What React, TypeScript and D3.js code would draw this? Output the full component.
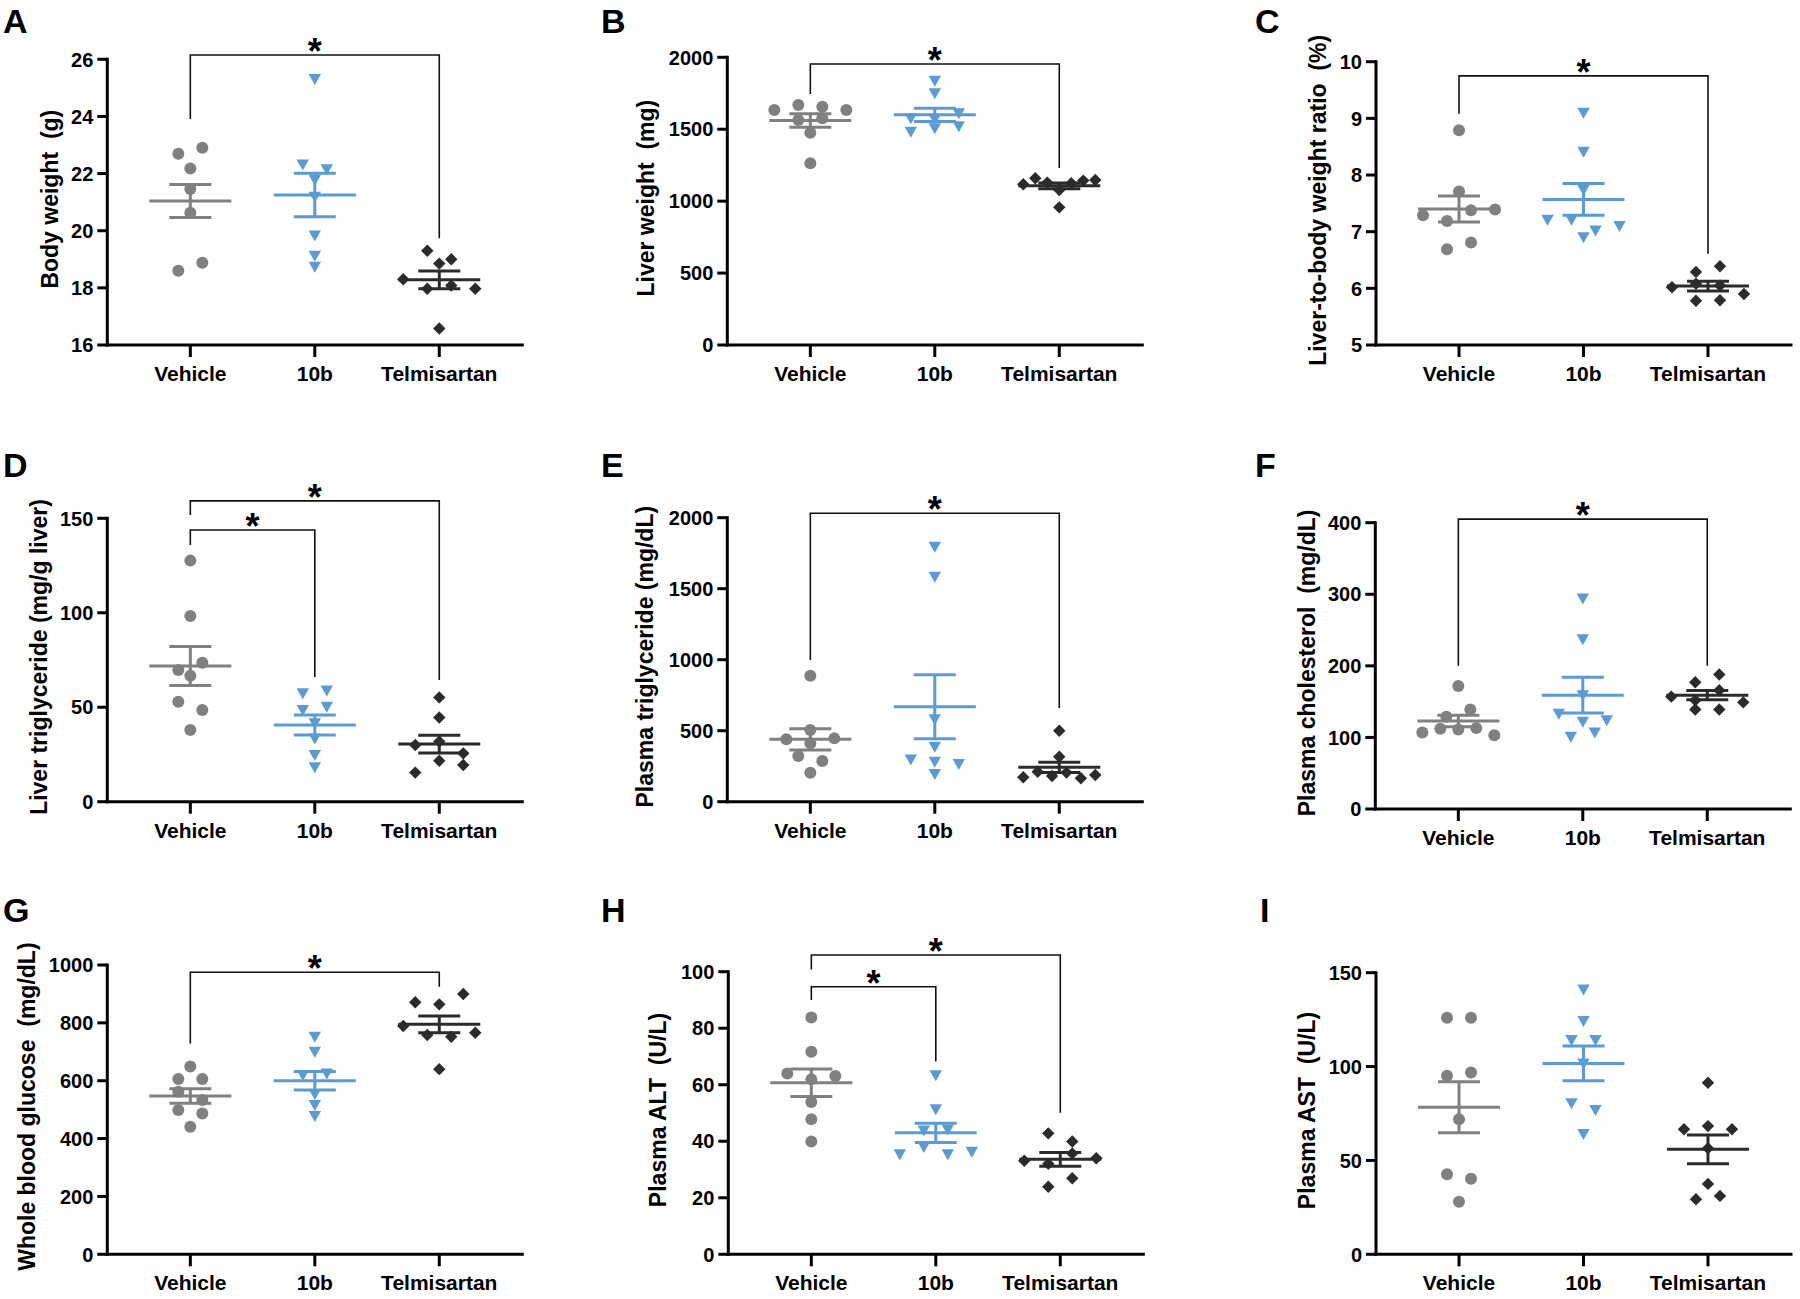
import React from 'react';
import * as d3 from 'd3';

const groups = ['Vehicle', '10b', 'Telmisartan'];

// A  Body weight (g)
const bodyWeightVehicle = [22.69, 22.9, 22.18, 21.46, 20.63, 18.6, 18.88];
const bodyWeight10b = [25.31, 22.32, 22.15, 21.78, 21.19, 19.83, 19.12, 18.74];
const bodyWeightTelmisartan = [19.3, 19.0, 18.85, 18.3, 17.97, 18.08, 17.97, 16.58];
const bodyWeightMean = [21.04, 21.25, 18.28];
const bodyWeightSem = [0.58, 0.76, 0.31];
const bodyWeightTicks = [16, 18, 20, 22, 24, 26];

// B  Liver weight (mg)
const liverWeightVehicle = [1634, 1669, 1657, 1634, 1564, 1576, 1476, 1263];
const liverWeight10b = [1837, 1750, 1576, 1570, 1611, 1483, 1506, 1520];
const liverWeightTelmisartan = [1117, 1159, 1129, 1078, 1124, 1143, 1147, 957];
const liverWeightMean = [1560, 1600, 1107];
const liverWeightSem = [47, 46, 20];
const liverWeightTicks = [0, 500, 1000, 1500, 2000];

// C  Liver-to-body weight ratio (%)
const ratioVehicle = [8.79, 7.71, 7.29, 7.19, 7.38, 7.39, 6.69, 6.81];
const ratio10b = [9.1, 8.41, 7.74, 7.21, 7.21, 7.02, 7.1, 6.9];
const ratioTelmisartan = [6.29, 6.39, 6.02, 6.08, 6.05, 5.9, 5.78, 5.79];
const ratioMean = [7.4, 7.57, 6.04];
const ratioSem = [0.23, 0.28, 0.085];
const ratioTicks = [5, 6, 7, 8, 9, 10];

// D  Liver triglyceride (mg/g liver)
const liverTgVehicle = [127.6, 98.3, 69.7, 73.6, 66.7, 52.9, 48.5, 37.9];
const liverTg10b = [57.4, 58.8, 48.5, 50.3, 41.5, 33.5, 24.7, 18.2];
const liverTgTelmisartan = [55.2, 44.6, 30.0, 31.8, 25.6, 15.4, 21.7, 19.4];
const liverTgMean = [71.8, 40.6, 30.5];
const liverTgSem = [10.3, 5.3, 4.7];
const liverTgTicks = [0, 50, 100, 150];

// E  Plasma triglyceride (mg/dL)
const plasmaTgVehicle = [887, 439, 505, 446, 411, 322, 287, 204];
const plasmaTg10b = [1796, 1585, 580, 387, 298, 282, 266, 195];
const plasmaTgTelmisartan = [500, 317, 172, 211, 181, 205, 165, 188];
const plasmaTgMean = [439, 669, 242];
const plasmaTgSem = [75, 225, 36];
const plasmaTgTicks = [0, 500, 1000, 1500, 2000];

// F  Plasma cholesterol (mg/dL)
const cholVehicle = [172, 129, 139, 107, 112, 111, 113, 103];
const chol10b = [294, 237, 159, 133, 122, 124, 101, 107];
const cholTelmisartan = [177, 188, 157, 152, 166, 149, 139, 139];
const cholMean = [123, 159, 159];
const cholSem = [8, 25, 6.5];
const cholTicks = [0, 100, 200, 300, 400];

// G  Whole blood glucose (mg/dL)
const glucoseVehicle = [649, 606, 606, 562, 533, 499, 487, 441];
const glucose10b = [752, 700, 620, 625, 554, 516, 478];
const glucoseTelmisartan = [871, 864, 900, 789, 758, 752, 766, 640];
const glucoseMean = [547, 600, 795];
const glucoseSem = [25, 32, 29];
const glucoseTicks = [0, 200, 400, 600, 800, 1000];

// H  Plasma ALT (U/L)
const altVehicle = [83.8, 71.7, 64.0, 61.9, 63.1, 53.9, 47.8, 39.9];
const alt10b = [63.4, 51.3, 43.8, 44.2, 35.4, 38.0, 35.4, 36.3];
const altTelmisartan = [42.8, 39.9, 33.1, 32.0, 35.7, 34.0, 23.9, 26.9];
const altMean = [60.7, 43.0, 33.6];
const altSem = [4.85, 3.4, 2.4];
const altTicks = [0, 20, 40, 60, 80, 100];

// I  Plasma AST (U/L)
const astVehicle = [126.0, 126.0, 95.1, 96.9, 71.9, 42.6, 40.3, 28.0];
const ast10b = [141.1, 124.3, 114.2, 114.2, 101.7, 80.4, 76.9, 64.1];
const astTelmisartan = [91.4, 66.6, 68.3, 66.6, 56.5, 37.5, 29.3, 31.1];
const astMean = [78.3, 101.7, 55.9];
const astSem = [13.6, 9.3, 7.7];
const astTicks = [0, 50, 100, 150];

const COLORS = ['#808080', '#5b9bd5', '#2b2b2b'];
const FONT = '"Liberation Sans", Arial, Helvetica, sans-serif';

type Bracket = { from: number; to: number; bar: number; left: number; right: number };
type PanelCfg = {
  letter: string; lx: number; ly: number;
  axisX: number; yTop: number; yBottom: number;
  domain: [number, number]; ticks: number[];
  title: string; titleDx: number;
  series: number[][]; mean: number[]; sem: number[];
  brackets: Bracket[];
};

const panels: PanelCfg[] = [
  { letter: 'A', lx: 3, ly: 33, axisX: 107.3, yTop: 59.3, yBottom: 345, domain: [16, 26], ticks: bodyWeightTicks,
    title: 'Body weight  (g)', titleDx: 57,
    series: [bodyWeightVehicle, bodyWeight10b, bodyWeightTelmisartan], mean: bodyWeightMean, sem: bodyWeightSem,
    brackets: [{ from: 0, to: 2, bar: 26.15, left: 23.91, right: 19.74 }] },
  { letter: 'B', lx: 601, ly: 33, axisX: 727.3, yTop: 57.3, yBottom: 345, domain: [0, 2000], ticks: liverWeightTicks,
    title: 'Liver weight  (mg)', titleDx: 81,
    series: [liverWeightVehicle, liverWeight10b, liverWeightTelmisartan], mean: liverWeightMean, sem: liverWeightSem,
    brackets: [{ from: 0, to: 2, bar: 1953, left: 1745, right: 1230 }] },
  { letter: 'C', lx: 1255, ly: 33, axisX: 1376, yTop: 61.7, yBottom: 345, domain: [5, 10], ticks: ratioTicks,
    title: 'Liver-to-body weight ratio  (%)', titleDx: 58,
    series: [ratioVehicle, ratio10b, ratioTelmisartan], mean: ratioMean, sem: ratioSem,
    brackets: [{ from: 0, to: 2, bar: 9.75, left: 9.08, right: 6.61 }] },
  { letter: 'D', lx: 3, ly: 477, axisX: 107.3, yTop: 518.3, yBottom: 801.7, domain: [0, 150], ticks: liverTgTicks,
    title: 'Liver triglyceride (mg/g liver)', titleDx: 68,
    series: [liverTgVehicle, liverTg10b, liverTgTelmisartan], mean: liverTgMean, sem: liverTgSem,
    brackets: [
      { from: 0, to: 2, bar: 159.2, left: 151.8, right: 64.4 },
      { from: 0, to: 1, bar: 143.8, left: 135.9, right: 66.0 },
    ] },
  { letter: 'E', lx: 601, ly: 477, axisX: 727.3, yTop: 517.7, yBottom: 801.7, domain: [0, 2000], ticks: plasmaTgTicks,
    title: 'Plasma triglyceride (mg/dL)', titleDx: 82,
    series: [plasmaTgVehicle, plasmaTg10b, plasmaTgTelmisartan], mean: plasmaTgMean, sem: plasmaTgSem,
    brackets: [{ from: 0, to: 2, bar: 2031, left: 998, right: 660 }] },
  { letter: 'F', lx: 1255, ly: 477, axisX: 1375.3, yTop: 522.7, yBottom: 809, domain: [0, 400], ticks: cholTicks,
    title: 'Plasma cholesterol  (mg/dL)', titleDx: 68.6,
    series: [cholVehicle, chol10b, cholTelmisartan], mean: cholMean, sem: cholSem,
    brackets: [{ from: 0, to: 2, bar: 405, left: 200, right: 200 }] },
  { letter: 'G', lx: 3, ly: 922, axisX: 107.3, yTop: 965, yBottom: 1254.3, domain: [0, 1000], ticks: glucoseTicks,
    title: 'Whole blood glucose  (mg/dL)', titleDx: 80,
    series: [glucoseVehicle, glucose10b, glucoseTelmisartan], mean: glucoseMean, sem: glucoseSem,
    brackets: [{ from: 0, to: 2, bar: 975, left: 729, right: 925 }] },
  { letter: 'H', lx: 601, ly: 922, axisX: 728.3, yTop: 971.7, yBottom: 1254.3, domain: [0, 100], ticks: altTicks,
    title: 'Plasma ALT  (U/L)', titleDx: 70,
    series: [altVehicle, alt10b, altTelmisartan], mean: altMean, sem: altSem,
    brackets: [
      { from: 0, to: 2, bar: 105.9, left: 100.8, right: 50.1 },
      { from: 0, to: 1, bar: 94.7, left: 90.0, right: 68.2 },
    ] },
  { letter: 'I', lx: 1260, ly: 922, axisX: 1376, yTop: 972.7, yBottom: 1254.3, domain: [0, 150], ticks: astTicks,
    title: 'Plasma AST  (U/L)', titleDx: 69.3,
    series: [astVehicle, ast10b, astTelmisartan], mean: astMean, sem: astSem,
    brackets: [] },
];

// GraphPad-like row spreading of points with similar values
function spreadOffsets(values: number[], py: (v: number) => number): number[] {
  const CHAIN = 9, SPAN = 12.5, GAP = 24, MAXW = 72;
  const order = values.map((_, i) => i).sort((a, b) => values[b] - values[a] || a - b);
  const rows: number[][] = [];
  let cur: number[] = [];
  let firstY = 0, prevY = 0;
  for (const i of order) {
    const p = py(values[i]);
    if (cur.length && p - prevY < CHAIN && p - firstY < SPAN) {
      cur.push(i);
      prevY = p;
    } else {
      if (cur.length) rows.push(cur);
      cur = [i];
      firstY = p;
      prevY = p;
    }
  }
  if (cur.length) rows.push(cur);
  const offs = new Array(values.length).fill(0);
  for (const r of rows) {
    r.sort((a, b) => a - b);
    const n = r.length;
    const s = n > 1 ? Math.min(GAP, MAXW / (n - 1)) : 0;
    r.forEach((i, k) => { offs[i] = (k - (n - 1) / 2) * s; });
  }
  return offs;
}

function Marker({ g, cx, cy }: { g: number; cx: number; cy: number }) {
  const c = COLORS[g];
  if (g === 0) return <circle cx={cx} cy={cy} r={6} fill={c} />;
  if (g === 1) return <path d={`M${cx - 6.2},${cy - 5}L${cx + 6.2},${cy - 5}L${cx},${cy + 6}Z`} fill={c} />;
  return <path d={`M${cx},${cy - 6.2}L${cx + 6.2},${cy}L${cx},${cy + 6.2}L${cx - 6.2},${cy}Z`} fill={c} />;
}

function Panel({ cfg }: { cfg: PanelCfg }) {
  const y = d3.scaleLinear().domain(cfg.domain).range([cfg.yBottom, cfg.yTop]);
  const x = d3.scalePoint<string>().domain(groups).range([cfg.axisX, cfg.axisX + 415]).padding(0.667);
  const axisRight = cfg.axisX + 415;
  const titleY = (cfg.yTop + cfg.yBottom) / 2 - 3;
  const titleX = cfg.axisX - cfg.titleDx;

  return (
    <g>
      <text x={cfg.lx} y={cfg.ly} fontSize={34} fontWeight="bold" fill="#000">{cfg.letter}</text>

      {/* axes */}
      <line x1={cfg.axisX} x2={cfg.axisX} y1={y(cfg.domain[1])} y2={cfg.yBottom} stroke="#000" strokeWidth={3} strokeLinecap="square" />
      <line x1={cfg.axisX} x2={axisRight} y1={cfg.yBottom} y2={cfg.yBottom} stroke="#000" strokeWidth={3} strokeLinecap="square" />
      {cfg.ticks.map((t) => (
        <g key={t}>
          <line x1={cfg.axisX - 10} x2={cfg.axisX} y1={y(t)} y2={y(t)} stroke="#000" strokeWidth={3} />
          <text x={cfg.axisX - 14} y={y(t)} dy="0.36em" textAnchor="end" fontSize={20} fontWeight="bold">{t}</text>
        </g>
      ))}
      {groups.map((gname) => (
        <g key={gname}>
          <line x1={x(gname)} x2={x(gname)} y1={cfg.yBottom} y2={cfg.yBottom + 12} stroke="#000" strokeWidth={3} />
          <text x={x(gname)} y={cfg.yBottom + 36} textAnchor="middle" fontSize={21} fontWeight="bold">{gname}</text>
        </g>
      ))}
      <text
        transform={`translate(${titleX},${titleY}) rotate(-90)`}
        textAnchor="middle"
        dy="0.35em"
        fontSize={23}
        fontWeight="bold"
        style={{ whiteSpace: 'pre' }}
      >{cfg.title}</text>

      {/* points */}
      {cfg.series.map((vals, g) => {
        const offs = spreadOffsets(vals, (v) => y(v));
        const cx0 = x(groups[g]) as number;
        return (
          <g key={'pts' + g}>
            {vals.map((v, i) => <Marker key={i} g={g} cx={cx0 + offs[i]} cy={y(v)} />)}
          </g>
        );
      })}

      {/* mean ± SEM */}
      {cfg.mean.map((m, g) => {
        const cx0 = x(groups[g]) as number;
        const c = COLORS[g];
        const hi = y(m + cfg.sem[g]);
        const lo = y(m - cfg.sem[g]);
        return (
          <g key={'m' + g} stroke={c} strokeWidth={3}>
            <line x1={cx0 - 41} x2={cx0 + 41} y1={y(m)} y2={y(m)} />
            <line x1={cx0} x2={cx0} y1={hi} y2={lo} />
            <line x1={cx0 - 21} x2={cx0 + 21} y1={hi} y2={hi} />
            <line x1={cx0 - 21} x2={cx0 + 21} y1={lo} y2={lo} />
          </g>
        );
      })}

      {/* significance brackets */}
      {cfg.brackets.map((b, k) => {
        const x1 = x(groups[b.from]) as number;
        const x2 = x(groups[b.to]) as number;
        const yb = y(b.bar);
        return (
          <g key={'b' + k}>
            <path d={`M${x1},${y(b.left)}V${yb}H${x2}V${y(b.right)}`} fill="none" stroke="#111" strokeWidth={1.6} />
            <text x={(x1 + x2) / 2} y={yb + 9} textAnchor="middle" fontSize={36} fontWeight="bold">*</text>
          </g>
        );
      })}
    </g>
  );
}

export default function App() {
  return (
    <svg
      width={1800}
      height={1299}
      viewBox="0 0 1800 1299"
      style={{ position: 'absolute', left: 0, top: 0, background: '#fff', fontFamily: FONT }}
      fontFamily={FONT}
    >
      <rect x={0} y={0} width={1800} height={1299} fill="#fff" />
      {panels.map((p) => <Panel key={p.letter} cfg={p} />)}
    </svg>
  );
}
